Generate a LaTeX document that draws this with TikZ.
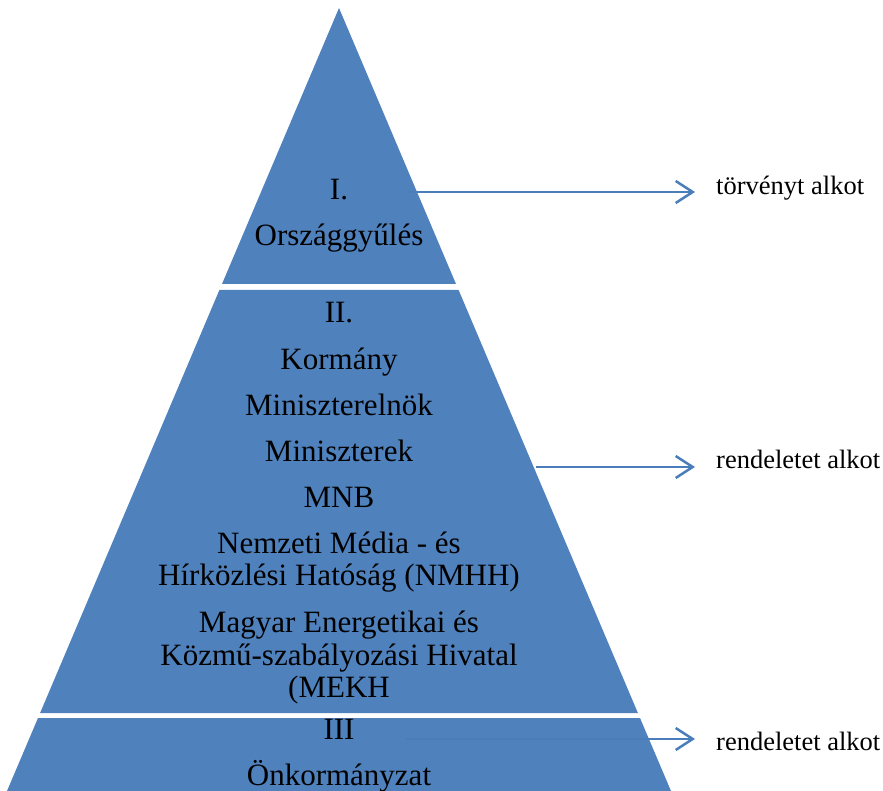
\documentclass[tikz,border=0pt]{standalone}
\usepackage{fontspec}
\setmainfont{Liberation Serif}
\usetikzlibrary{positioning,arrows.meta}
\definecolor{pyrblue}{HTML}{4F81BD}
\definecolor{arrblue}{HTML}{4A7EBB}

\begin{document}
\begin{tikzpicture}[x=1pt, y=-1pt, node distance=46pt,
        sor/.style = {font=\fontsize{31}{32.5}\selectfont, inner sep=0pt, text height=22pt, text depth=7pt},
        blokk/.style = {font=\fontsize{31}{32.5}\selectfont, inner sep=0pt, align=center, anchor=base},
        cimke/.style = {font=\fontsize{26.5}{30}\selectfont, inner sep=0pt, anchor=base west},
        nyil/.style = {draw=arrblue, line width=2.5pt, -{Straight Barb[length=17pt,width=22pt,line width=2.5pt]}, shorten >=21pt}]
        \useasboundingbox (0,0) rectangle (883,791);

        % pyramid bands
        \fill[pyrblue] (339,8) -- (456,284) -- (222,284) -- cycle;
        \fill[pyrblue] (219.4,290) -- (458.6,290) -- (637.9,713) -- (40.1,713) -- cycle;
        \fill[pyrblue] (38,718) -- (640,718) -- (671,791) -- (7,791) -- cycle;

        % I.
        \node[sor] (1) at (339,192.5) {I.};
        \node[sor] (2) [below of=1] {Országgyűlés};

        % II.
        \node[sor] (3) at (339,315.5) {II.};
        \node[sor] (4) [below of=3] {Kormány};
        \node[sor] (5) [below of=4] {Miniszterelnök};
        \node[sor] (6) [below of=5] {Miniszterek};
        \node[sor] (7) [below of=6] {MNB};
        % base = last line
        \node[blokk] (8) at (339,585.5) {Nemzeti Média - és\\Hírközlési Hatóság (NMHH)};
        \node[blokk] (9) at (339,697.5) {Magyar Energetikai és\\Közmű-szabályozási Hivatal\\(MEKH};

        % III
        \node[sor] (10) at (339,731.5) {III};
        \node[sor] (11) [below of=10] {Önkormányzat};

        % labels
        \node[cimke] (12) at (716,195) {törvényt alkot};
        \node[cimke] (13) at (716,468) {rendeletet alkot};
        \node[cimke] (14) at (716,750) {rendeletet alkot};

        \coordinate (a1) at (407,192);
        \coordinate (a2) at (536,467);
        \coordinate (a3) at (406,739);

        \draw[nyil] (a1) -- (a1 -| 12.west);
        \draw[nyil] (a2) -- (a2 -| 13.west);
        \draw[nyil] (a3) -- (a3 -| 14.west);
    \end{tikzpicture}
\end{document}
